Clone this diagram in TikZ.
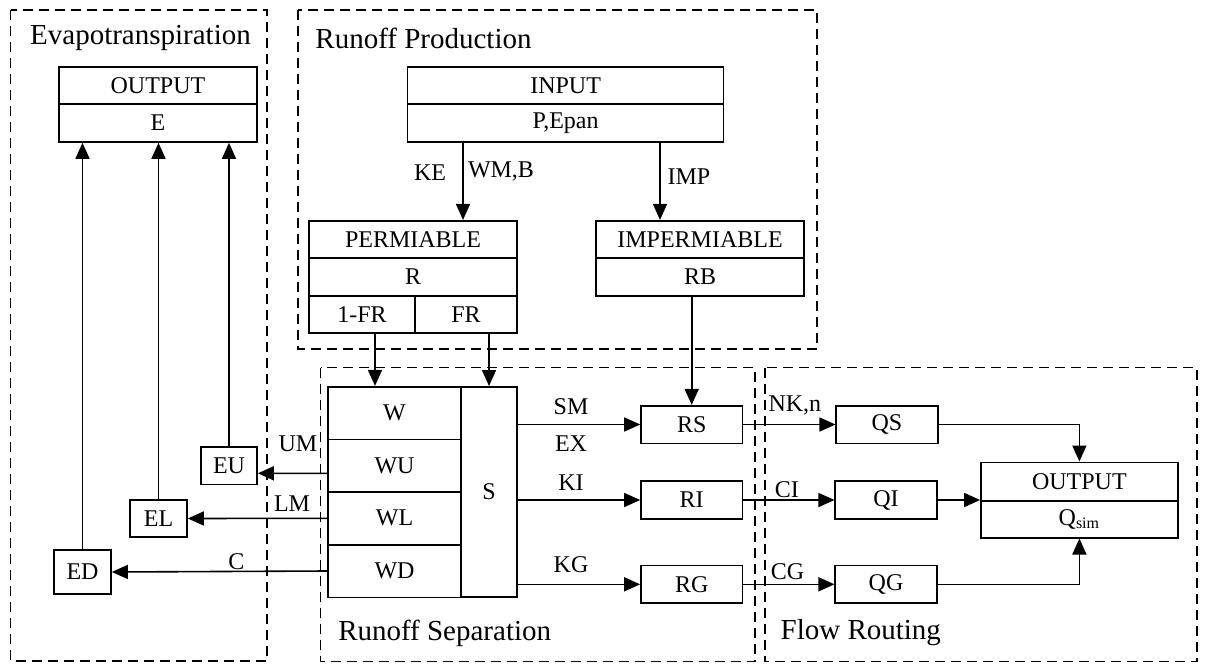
\documentclass[tikz,border=0pt]{standalone}
\usepackage{fontspec}
\setmainfont{Liberation Serif}
\usetikzlibrary{arrows.meta}
\tikzset{
  cell/.style={draw, line width=0.8pt, inner sep=0pt, font=\fontsize{12}{14}\selectfont},
  arr/.style={-{Triangle[length=8pt,width=7pt]}, line width=0.8pt},
  region/.style={draw, dash pattern=on 5pt off 3pt, line width=0.7pt},
  title/.style={font=\fontsize{14.5}{17}\selectfont, inner sep=0pt},
  lbl/.style={font=\fontsize{12}{14}\selectfont, inner sep=0pt}
}
\begin{document}
\begin{tikzpicture}[x=0.5pt,y=-0.5pt]
\useasboundingbox (0,0) rectangle (1205,664);
% regions
\draw[region] (10.7,10) rectangle (267,661);
\draw[region] (298,10) rectangle (817,349);
\draw[region] (320.7,367.7) rectangle (755,661.7);
\draw[region] (765,367.7) rectangle (1197,661.7);
\node[title] (tEva) at (140.5,38) {Evapotranspiration};
\node[title] (tRP) at (423.5,38) {Runoff Production};
\node[title] (tRS) at (444.7,633) {Runoff Separation};
\node[title] (tFR) at (860.8,633) {Flow Routing};
% evap output
\node[cell, minimum width=99pt, minimum height=18.5pt] (eOut) at (158,85.5) {OUTPUT};
\node[cell, minimum width=99pt, minimum height=19pt] (eE) at (158,123) {E};
% input
\node[cell, minimum width=158pt, minimum height=18.5pt] (inT) at (565.6,85.5) {INPUT};
\node[cell, minimum width=158pt, minimum height=19pt] (inP) at (565.6,123) {P,Epan};
% permiable
\node[cell, minimum width=104pt, minimum height=18.75pt] (pT) at (413,239.5) {PERMIABLE};
\node[cell, minimum width=104pt, minimum height=18.75pt] (pR) at (413,277) {R};
\node[cell, minimum width=53pt, minimum height=18.75pt] (p1) at (362,314.5) {1-FR};
\node[cell, minimum width=51pt, minimum height=18.75pt] (p2) at (466,314.5) {FR};
% impermiable
\node[cell, minimum width=104pt, minimum height=18.75pt] (ipT) at (700,239.5) {IMPERMIABLE};
\node[cell, minimum width=104pt, minimum height=18.75pt] (ipR) at (700,277) {RB};
% soil block
\node[cell, minimum width=66.5pt, minimum height=26.3pt] (wW) at (394.5,413) {W};
\node[cell, minimum width=66.5pt, minimum height=26.3pt] (wU) at (394.5,465.6) {WU};
\node[cell, minimum width=66.5pt, minimum height=26.3pt] (wL) at (394.5,518.3) {WL};
\node[cell, minimum width=66.5pt, minimum height=26.3pt] (wD) at (394.5,571) {WD};
\node[cell, minimum width=28pt, minimum height=105.2pt] (sS) at (489,492) {S};
% evap components
\node[cell, minimum width=28pt, minimum height=18.8pt] (eu) at (229,465.5) {EU};
\node[cell, minimum width=28.5pt, minimum height=18.5pt] (el) at (158.5,518.5) {EL};
\node[cell, minimum width=28.5pt, minimum height=22pt] (ed) at (82.5,572) {ED};
% runoff components
\node[cell, minimum width=50.7pt, minimum height=18.8pt] (rs) at (691.7,424.5) {RS};
\node[cell, minimum width=50.7pt, minimum height=18.8pt] (ri) at (691.7,500) {RI};
\node[cell, minimum width=50.7pt, minimum height=18.8pt] (rg) at (691.7,584.3) {RG};
\node[cell, minimum width=50.75pt, minimum height=18.8pt] (qs) at (887,424.5) {QS};
\node[cell, minimum width=50.75pt, minimum height=18.8pt] (qi) at (886,500) {QI};
\node[cell, minimum width=50.75pt, minimum height=18.8pt] (qg) at (886,584.3) {QG};
% final output
\node[cell, minimum width=98.5pt, minimum height=19.2pt] (oT) at (1079.4,481.5) {OUTPUT};
\node[cell, minimum width=98.5pt, minimum height=18.5pt] (oQ) at (1079.4,519.2) {Q\textsubscript{sim}};
% connectors
\coordinate (keTop) at ([xshift=25pt]pT.north);
\draw[arr] (keTop |- inP.south) -- (keTop)
  node[lbl, midway, xshift=-16.5pt, yshift=4.2pt] (lKE) {KE}
  node[lbl, midway, xshift=19pt, yshift=5pt] (lWM) {WM,B};
\coordinate (impTop) at ([xshift=-20pt]ipT.north);
\draw[arr] (impTop |- inP.south) -- (impTop)
  node[lbl, midway, xshift=14.5pt, yshift=2.2pt] (lIMP) {IMP};
\draw[arr] (rs.north |- ipR.south) -- (rs.north);
\coordinate (frA) at ([xshift=6.5pt]p1.south);
\draw[arr] (frA) -- (frA |- wW.north);
\draw[arr] (sS.north |- p2.south) -- (sS.north);
\draw[arr] ([yshift=-3.9pt]wU.west) -- ([yshift=-3.9pt]eu.east)
  node[lbl, midway, xshift=2.75pt, yshift=14.65pt] (lUM) {UM};
\draw[arr] (wL.west) -- (el.east)
  node[lbl, midway, xshift=17.25pt, yshift=7.25pt] (lLM) {LM};
\draw[arr] (wD.west) -- (ed.east)
  node[lbl, midway, xshift=8.5pt, yshift=5.15pt] (lC) {C};
\draw[arr] (ed.north) -- (ed.north |- eE.south);
\draw[arr] (el.north) -- (el.north |- eE.south);
\draw[arr] (eu.north) -- (eu.north |- eE.south);
\draw[arr] (sS.east |- rs.west) -- (rs.west)
  node[lbl, midway, xshift=-4pt, yshift=8.9pt] (lSM) {SM}
  node[lbl, midway, xshift=-4pt, yshift=-9.75pt] (lEX) {EX};
\draw[arr] (sS.east |- ri.west) -- (ri.west)
  node[lbl, midway, xshift=-4pt, yshift=8.65pt] (lKI) {KI};
\draw[arr] (sS.east |- rg.west) -- (rg.west)
  node[lbl, midway, xshift=-4pt, yshift=9.65pt] (lKG) {KG};
\draw[arr] (rs.east) -- (qs.west)
  node[lbl, midway, xshift=2.75pt, yshift=9.5pt] (lNK) {NK,n};
\draw[arr] (ri.east) -- (qi.west)
  node[lbl, midway, xshift=-1pt, yshift=5pt] (lCI) {CI};
\draw[arr] (rg.east) -- (qg.west)
  node[lbl, midway, xshift=-0.6pt, yshift=6.15pt] (lCG) {CG};
\draw[arr] (qs.east) -| (oT.north);
\draw[arr] (qi.east) -- (qi.east -| oT.south west);
\draw[arr] (qg.east) -| (oQ.south);
\end{tikzpicture}
\end{document}
